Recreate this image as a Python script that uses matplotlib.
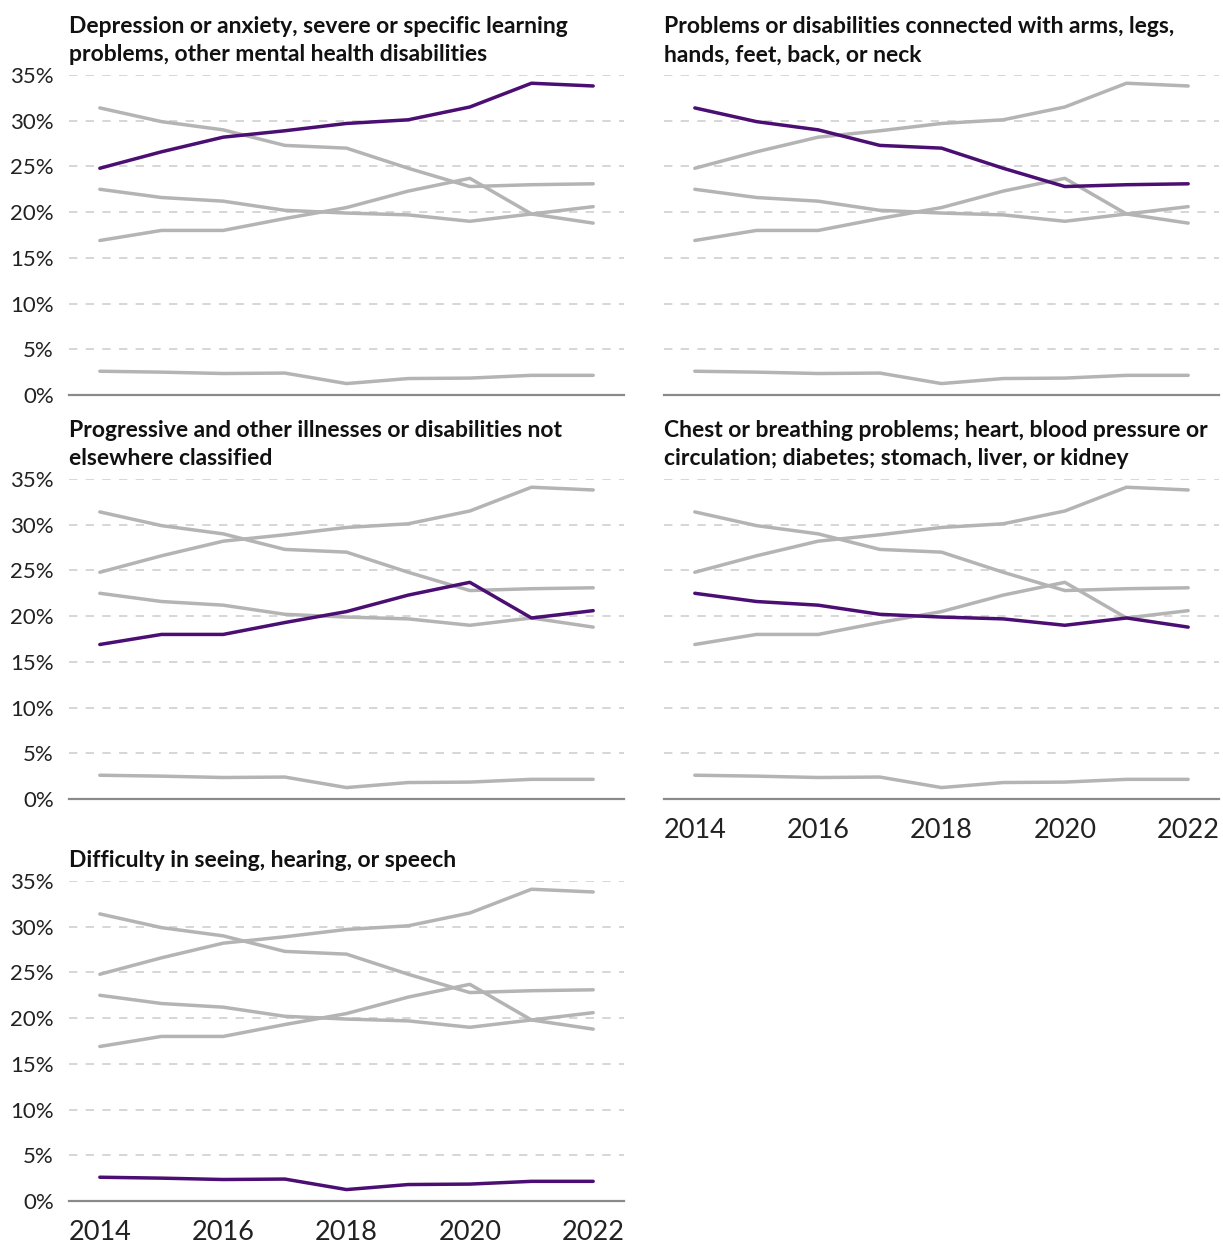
import numpy as np
import matplotlib
matplotlib.use("Agg")
import matplotlib.pyplot as plt

# data (share of people, %)
years = [2014, 2015, 2016, 2017, 2018, 2019, 2020, 2021, 2022]

mental = [24.8, 26.6, 28.2, 28.9, 29.7, 30.1, 31.5, 34.1, 33.8]
limbs = [31.4, 29.9, 29.0, 27.3, 27.0, 24.8, 22.8, 23.0, 23.1]
progressive = [16.9, 18.0, 18.0, 19.3, 20.5, 22.3, 23.7, 19.8, 20.6]
chest = [22.5, 21.6, 21.2, 20.2, 19.9, 19.7, 19.0, 19.8, 18.8]
senses = [2.6, 2.5, 2.35, 2.4, 1.25, 1.8, 1.85, 2.15, 2.15]

titles = [
    "Depression or anxiety, severe or specific learning\nproblems, other mental health disabilities",
    "Problems or disabilities connected with arms, legs,\nhands, feet, back, or neck",
    "Progressive and other illnesses or disabilities not\nelsewhere classified",
    "Chest or breathing problems; heart, blood pressure or\ncirculation; diabetes; stomach, liver, or kidney",
    "Difficulty in seeing, hearing, or speech",
]
series = [mental, limbs, progressive, chest, senses]

y_ticks = [0, 5, 10, 15, 20, 25, 30, 35]
x_ticks = [2014, 2016, 2018, 2020, 2022]

PURPLE = "#4b0e73"
GREY = "#b4b4b4"

plt.rcParams["font.family"] = ["Lato", "DejaVu Sans"]

fig = plt.figure(figsize=(12.23, 12.43), dpi=100)

W, H = 1223, 1243
lefts = [69, 664]
tops = [75, 479, 881]
ax_w, ax_h = 555, 320

# panel grid position (row, col), and which ones get labels
positions = [(0, 0), (0, 1), (1, 0), (1, 1), (2, 0)]
xlabel_panels = {3, 4}

for k, (r, c) in enumerate(positions):
    ax = fig.add_axes([lefts[c] / W, 1 - (tops[r] + ax_h) / H, ax_w / W, ax_h / H])

    # all series in grey, highlighted one in purple on top
    for j, s in enumerate(series):
        if j != k:
            ax.plot(years, s, color=GREY, lw=2.5, solid_capstyle="round", zorder=2)
    ax.plot(years, series[k], color=PURPLE, lw=2.5, solid_capstyle="round", zorder=3)

    ax.set_xlim(2013.5, 2022.5)
    ax.set_ylim(0, 35)
    ax.set_yticks(y_ticks)
    ax.set_xticks(x_ticks)
    for yv in y_ticks[1:]:
        ax.axhline(yv, color="#d0d0d0", lw=1.2, ls=(0, (5, 5)), zorder=1)

    for side in ["top", "right", "left"]:
        ax.spines[side].set_visible(False)
    ax.spines["bottom"].set_color("#8a8a8a")
    ax.spines["bottom"].set_linewidth(1.6)
    ax.tick_params(length=0)

    if c == 0:
        ax.set_yticklabels([f"{v}%" for v in y_ticks], fontsize=16, color="#222222")
        ax.tick_params(axis="y", pad=11)
    else:
        ax.set_yticklabels([])

    if k in xlabel_panels:
        ax.set_xticklabels([str(x) for x in x_ticks], fontsize=19.5, color="#222222")
        ax.tick_params(axis="x", pad=14)
    else:
        ax.set_xticklabels([])

    ax.text(0, 1.03, titles[k], transform=ax.transAxes, ha="left", va="bottom",
            fontsize=16.5, fontweight="bold", color="#111111", linespacing=1.42)

fig.savefig("out.png", dpi=100)
